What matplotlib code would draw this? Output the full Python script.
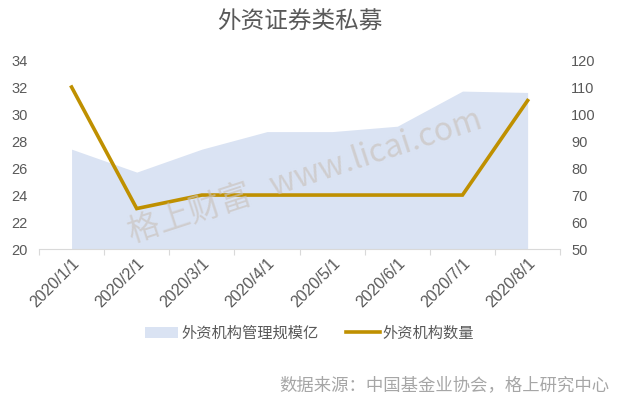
import matplotlib.pyplot as plt
import numpy as np
from matplotlib.patches import Patch
from matplotlib.lines import Line2D

plt.rcParams['font.family'] = ['Liberation Sans Narrow', 'Liberation Sans', 'Noto Sans CJK SC', 'DejaVu Sans']

dates = ["2020/1/1", "2020/2/1", "2020/3/1", "2020/4/1",
         "2020/5/1", "2020/6/1", "2020/7/1", "2020/8/1"]
aum = [27.4, 25.7, 27.4, 28.7, 28.7, 29.1, 31.7, 31.6]
inst_count = [110, 65, 70, 70, 70, 70, 70, 105]

cjk = ['Noto Sans CJK SC', 'DejaVu Sans']
grey = '#595959'
area_color = '#DAE3F3'
line_color = '#BF9000'

fig = plt.figure(figsize=(6.19, 4.03), dpi=100)
ax = fig.add_axes([0.063, 0.382, 0.842, 0.469])
ax2 = ax.twinx()

x = np.arange(len(dates))
ax.fill_between(x, 20, aum, color=area_color, linewidth=0, zorder=1)
ax2.plot(x, inst_count, color=line_color, linewidth=2.6, solid_joinstyle='miter', zorder=3)

ax.set_xlim(-0.5, len(dates) - 0.5)
ax.set_ylim(20, 34)
ax.set_yticks(np.arange(20, 35, 2))
ax2.set_ylim(50, 120)
ax2.set_yticks(np.arange(50, 121, 10))

ax.set_xticks(np.arange(-0.5, len(dates), 1))
ax.set_xticklabels([])
ax.set_xticks(x, minor=True)
ax.set_xticklabels(dates, minor=True, rotation=45, ha='right', rotation_mode='anchor')
ax.tick_params(axis='x', which='major', length=4, color='#d9d9d9', width=0.8)
ax.tick_params(axis='x', which='minor', length=0, pad=5, labelsize=11.5, labelcolor=grey)
ax.tick_params(axis='y', length=0, labelsize=10.5, labelcolor=grey, pad=8)
ax2.tick_params(axis='y', length=0, labelsize=10.5, labelcolor=grey, pad=8)

for a in (ax, ax2):
    for s in ('top', 'left', 'right'):
        a.spines[s].set_visible(False)
    a.spines['bottom'].set_color('#d9d9d9')
ax2.spines['bottom'].set_visible(False)

# watermark
fig.text(0.493, 0.56, "格上财富   www.licai.com", rotation=18, fontsize=23,
         color='#c9c2bc', alpha=0.65, ha='center', va='center', family=cjk, zorder=5)

fig.text(0.485, 0.945, "外资证券类私募", fontsize=17, color=grey, ha='center', va='center', family=cjk)

handles = [Patch(facecolor=area_color, edgecolor='none'),
           Line2D([0], [0], color=line_color, linewidth=2.6)]
fig.legend(handles, ["外资机构管理规模亿", "外资机构数量"], loc='center',
           bbox_to_anchor=(0.5, 0.173), ncol=2, frameon=False,
           prop={'family': cjk, 'size': 11}, labelcolor=grey,
           handlelength=2.2, columnspacing=1.8, handletextpad=0.2)

fig.text(0.985, 0.045, "数据来源：中国基金业协会，格上研究中心", fontsize=12.5,
         color='#a6a6a6', ha='right', va='center', family=cjk)

plt.savefig("out.png", dpi=100)
